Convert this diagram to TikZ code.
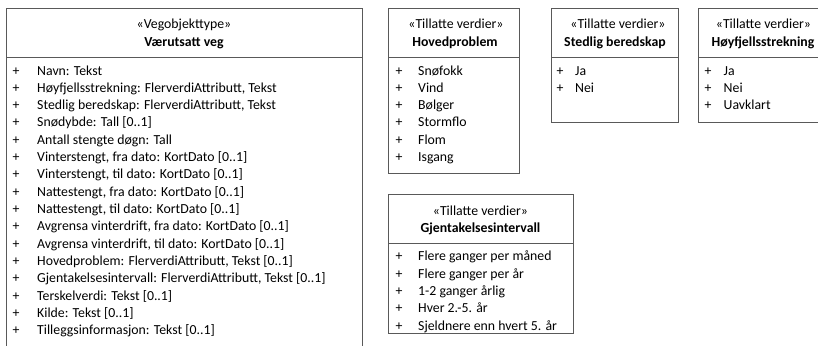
\documentclass[tikz,border=0pt]{standalone}
\usepackage{fontspec}
\setmainfont{Carlito}
\tikzset{l/.style={font=\fontsize{13.8}{13.8}\selectfont,inner sep=0pt,text=black}}
\tikzset{hd/.style={l,anchor=base}}
\tikzset{b/.style={hd,font=\fontsize{13.8}{13.8}\selectfont\bfseries}}
\tikzset{it/.style={l,anchor=base west}}
\tikzset{box/.style={draw=black!65,line width=0.8pt,fill=white}}

\begin{document}
\begin{tikzpicture}[x=1pt,y=-1pt,line join=miter]
            \useasboundingbox (0,0) rectangle (818,345);
            \clip (0,0) rectangle (818,345);
            % Vegobjekttype
            \draw[box](6,352)--(6,8)--(362,8)--(362,352);
            \draw[box](6,57)--(362,57);
            \node[hd] (vegster) at (184,29) {«Vegobjekttype»};
            \node[b] (vegname) at (184,46.5) {Værutsatt veg};
            \foreach \t [count=\i from 0] in {{Navn: Tekst},{Høyfjellsstrekning: FlerverdiAttributt, Tekst},{Stedlig beredskap: FlerverdiAttributt, Tekst},{Snødybde: Tall [0..1]},{Antall stengte døgn: Tall},{Vinterstengt, fra dato: KortDato [0..1]},{Vinterstengt, til dato: KortDato [0..1]},{Nattestengt, fra dato: KortDato [0..1]},{Nattestengt, til dato: KortDato [0..1]},{Avgrensa vinterdrift, fra dato: KortDato [0..1]},{Avgrensa vinterdrift, til dato: KortDato [0..1]},{Hovedproblem: FlerverdiAttributt, Tekst [0..1]},{Gjentakelsesintervall: FlerverdiAttributt, Tekst [0..1]},{Terskelverdi: Tekst [0..1]},{Kilde: Tekst [0..1]},{Tilleggsinformasjon: Tekst [0..1]}}{
              \node[hd] (vegplus\i) at (16,75+17.33*\i) {+};
              \node[it] (vegattr\i) at (37,75+17.33*\i) {\t};
            }
            % Hovedproblem
            \draw[box](388,8) rectangle (519,173);
            \draw[box](388,57)--(519,57);
            \node[hd] (hovster) at (456,29) {«Tillatte verdier»};
            \node[b] (hovname) at (455,46.5) {Hovedproblem};
            \foreach \t [count=\i from 0] in {Snøfokk,Vind,Bølger,Stormflo,Flom,Isgang}{
              \node[hd] (hovplus\i) at (399,75+17.33*\i) {+};
              \node[it] (hovval\i) at (418,75+17.33*\i) {\t};
            }
            % Stedlig beredskap
            \draw[box](551,8) rectangle (678,122);
            \draw[box](551,57)--(678,57);
            \node[hd] (stedster) at (618,29) {«Tillatte verdier»};
            \node[b] (stedname) at (615,46.5) {Stedlig beredskap};
            \foreach \t [count=\i from 0] in {Ja,Nei}{
              \node[hd] (stedplus\i) at (560,75+17.33*\i) {+};
              \node[it] (stedval\i) at (575,75+17.33*\i) {\t};
            }
            % Hoyfjellsstrekning
            \draw[box](698,8) rectangle (830,122);
            \draw[box](698,57)--(830,57);
            \node[hd] (hoyster) at (763.5,29) {«Tillatte verdier»};
            \node[b] (hoyname) at (763,46.5) {Høyfjellsstrekning};
            \foreach \t [count=\i from 0] in {Ja,Nei,Uavklart}{
              \node[hd] (hoyplus\i) at (708,75+17.33*\i) {+};
              \node[it] (hoyval\i) at (723.5,75+17.33*\i) {\t};
            }
            % Gjentakelsesintervall
            \draw[box](388,194) rectangle (573,333);
            \draw[box](388,243)--(573,243);
            \node[hd] (gjenster) at (480.5,215) {«Tillatte verdier»};
            \node[b] (gjenname) at (480.5,232.5) {Gjentakelsesintervall};
            \foreach \t [count=\i from 0] in {Flere ganger per måned,Flere ganger per år,1-2 ganger årlig,Hver 2.-5. år,Sjeldnere enn hvert 5. år}{
              \node[hd] (gjenplus\i) at (399,260.7+17.33*\i) {+};
              \node[it] (gjenval\i) at (418,260.7+17.33*\i) {\t};
            }
          \end{tikzpicture}
\end{document}
